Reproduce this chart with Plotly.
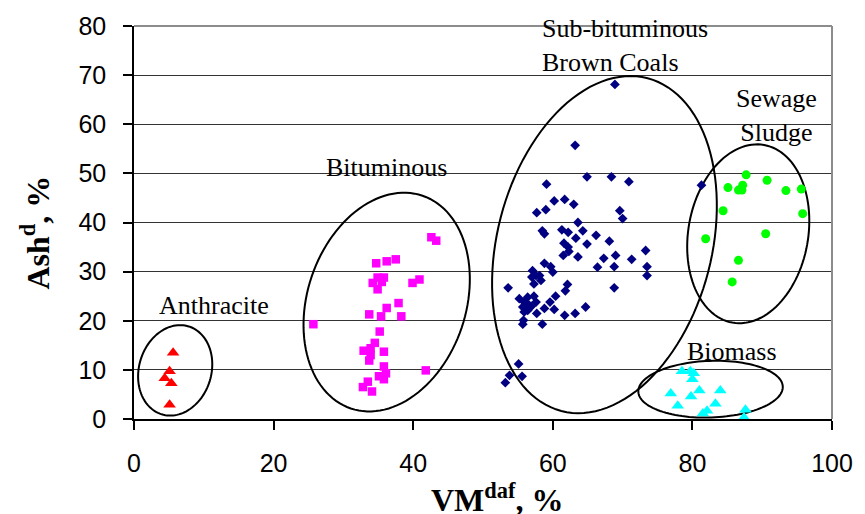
import numpy as np
import plotly.graph_objects as go

# ---- data: volatile matter (daf, %) vs ash (dry, %) by fuel type ----
anthracite_vm = [5.6, 5.1, 4.4, 5.35, 5.1]
anthracite_ash = [13.5, 9.7, 8.3, 7.3, 2.9]

bituminous_vm = [42.6, 43.3, 34.7, 36.2, 37.5, 34.9, 35.8, 34.2, 35.5, 34.9,
                 39.9, 40.9, 37.9, 36.2, 33.7, 35.4, 38.3, 25.7, 35.2, 34.5,
                 32.9, 33.9, 33.9, 35.8, 33.7, 35.8, 36.1, 35.1, 35.8, 41.8,
                 33.5, 32.8, 34.1]
bituminous_ash = [37.0, 36.3, 31.7, 32.1, 32.5, 28.8, 28.8, 27.7, 27.9, 26.4,
                  27.7, 28.4, 23.6, 22.6, 21.3, 20.9, 20.9, 19.3, 17.8, 15.5,
                  13.9, 14.4, 13.0, 13.7, 11.9, 10.7, 9.3, 8.7, 8.1, 9.9,
                  7.6, 6.5, 5.6]

subbit_vm = [68.9, 63.2, 64.9, 68.4, 70.9, 59.1, 60.2, 61.7, 63.0, 57.7,
             59.0, 69.6, 70.0, 63.6, 58.5, 58.8, 61.3, 62.2, 64.3, 66.2,
             63.3, 68.1, 61.6, 62.2, 64.9, 62.3, 61.5, 63.6, 73.3, 67.3,
             69.0, 71.3, 66.4, 68.8, 73.5, 73.5, 58.8, 59.7, 60.0, 57.1,
             57.6, 57.0, 57.3, 58.3, 53.6, 62.1, 61.8, 68.8, 55.2, 55.9,
             56.4, 57.3, 56.6, 55.7, 56.4, 60.4, 59.6, 58.8, 60.2, 57.7,
             64.7, 61.7, 63.2, 55.8, 55.7, 58.5, 55.1, 53.8, 55.6, 53.2,
             81.3, 56.9, 55.9, 57.6, 58.1]
subbit_ash = [68.1, 55.7, 49.3, 49.3, 48.3, 47.8, 44.4, 44.7, 43.7, 42.0,
              42.6, 42.4, 40.8, 40.0, 38.3, 37.7, 38.5, 38.0, 38.3, 37.4,
              36.8, 36.2, 35.8, 35.0, 35.6, 34.1, 33.3, 33.0, 34.3, 32.7,
              33.3, 32.5, 30.9, 31.0, 31.0, 29.2, 31.7, 31.0, 29.9, 30.2,
              29.2, 28.9, 27.5, 28.2, 26.7, 27.4, 26.1, 26.7, 24.5, 23.8,
              24.8, 25.0, 23.2, 22.8, 22.1, 25.0, 23.8, 22.5, 22.3, 21.5,
              22.8, 21.1, 21.5, 20.1, 19.3, 19.3, 11.2, 8.9, 8.7, 7.4,
              47.6, 22.9, 21.8, 23.8, 29.2]

sludge_vm = [87.7, 90.7, 85.1, 87.2, 86.6, 87.1, 93.4, 95.6, 84.4, 95.8,
             90.5, 81.9, 86.6, 85.7]
sludge_ash = [49.7, 48.6, 47.1, 47.6, 46.6, 46.6, 46.5, 46.8, 42.4, 41.8,
              37.7, 36.7, 32.3, 27.9]

biomass_vm = [78.5, 79.7, 80.2, 80.0, 76.9, 81.0, 79.8, 84.0, 77.9, 83.3,
              82.1, 81.5, 87.6, 87.4]
biomass_ash = [9.7, 9.7, 9.3, 8.1, 5.2, 5.8, 4.6, 5.8, 2.7, 3.1,
               1.7, 1.1, 1.9, 0.3]

x_ticks = [0, 20, 40, 60, 80, 100]
y_ticks = [0, 10, 20, 30, 40, 50, 60, 70, 80]

# ---- layout geometry ----
W, H = 865, 514
ML, MR, MT, MB = 134, 26, 24, 94.5
XR, YR = (0, 100), (0, 80)
px_x = (W - ML - MR) / (XR[1] - XR[0])   # pixels per x unit
px_y = (H - MT - MB) / (YR[1] - YR[0])   # pixels per y unit

SERIF = "Liberation Serif"
SANS = "Liberation Sans"

fig = go.Figure()


def add_series(vm, ash, symbol, color, size):
    fig.add_trace(go.Scatter(
        x=vm, y=ash, mode="markers",
        marker=dict(symbol=symbol, color=color, size=size, line=dict(width=0)),
        cliponaxis=False, showlegend=False, hoverinfo="x+y"))


add_series(anthracite_vm, anthracite_ash, "triangle-up", "#FF0000", 11)
add_series(bituminous_vm, bituminous_ash, "square", "#FF00FF", 8.5)
add_series(subbit_vm, subbit_ash, "diamond", "#000080", 7.5)
add_series(sludge_vm, sludge_ash, "circle", "#00FF00", 9)
add_series(biomass_vm, biomass_ash, "triangle-up", "#00FFFF", 11)


def ellipse_path(cx, cy, a, b, phi_deg, n=120):
    """Closed SVG path of an ellipse centred at (cx, cy) in data units,
    semi-axes a, b given in screen pixels, major axis at phi degrees."""
    phi = np.radians(phi_deg)
    t = np.linspace(0, 2 * np.pi, n, endpoint=False)
    dx = a * np.cos(t) * np.cos(phi) - b * np.sin(t) * np.sin(phi)
    dy = a * np.cos(t) * np.sin(phi) + b * np.sin(t) * np.cos(phi)
    xs = cx + dx / px_x
    ys = cy + dy / px_y
    pts = [f"{x:.4f},{y:.4f}" for x, y in zip(xs, ys)]
    return "M" + " L".join(pts) + " Z"


groups = [
    (5.9, 9.9, 46.3, 36.5, 72.8),     # anthracite
    (36.2, 23.8, 113, 80, 71.3),      # bituminous
    (67.4, 35.5, 173, 108.3, 75.4),   # sub-bituminous / brown coals
    (88.0, 37.7, 90.8, 60.5, 79.8),   # sewage sludge
    (82.6, 6.07, 73, 28.5, 2.0),      # biomass
]
for cx, cy, a, b, phi in groups:
    fig.add_shape(type="path", path=ellipse_path(cx, cy, a, b, phi),
                  xref="x", yref="y", line=dict(color="black", width=2),
                  fillcolor="rgba(0,0,0,0)", layer="between")

# grey frame on top and right of the plot area
fig.add_shape(type="line", xref="paper", yref="paper", x0=0, x1=1, y0=1, y1=1,
              line=dict(color="#8c8c8c", width=2), layer="above")
fig.add_shape(type="line", xref="paper", yref="paper", x0=1, x1=1, y0=0, y1=1,
              line=dict(color="#8c8c8c", width=2), layer="above")

label_font = dict(family=SERIF, size=26, color="black")
labels = [
    ("Anthracite", 11.5, 23.2, "center"),
    ("Bituminous", 36.2, 51.1, "center"),
    ("Sub-bituminous<br>Brown Coals", 58.1, 76.0, "left"),
    ("Sewage<br>Sludge", 92.0, 61.75, "center"),
    ("Biomass", 85.7, 13.7, "center"),
]
for text, x, y, anchor in labels:
    fig.add_annotation(text=text, x=x, y=y, xref="x", yref="y",
                       xanchor=anchor, yanchor="middle", align=anchor,
                       showarrow=False, font=label_font)

title_font = dict(family=SERIF, size=32, color="black")
fig.add_annotation(text="<b>VM<sup>daf</sup>, %</b>", xref="paper", yref="paper",
                   x=(501 - ML) / (W - ML - MR), y=-0.2,
                   xanchor="center", yanchor="middle", showarrow=False,
                   font=title_font)
fig.add_annotation(text="<b>Ash<sup>d</sup>, %</b>", xref="paper", yref="paper",
                   x=-0.142, y=0.474, textangle=-90,
                   xanchor="center", yanchor="middle", showarrow=False,
                   font=title_font)

fig.update_layout(
    width=W, height=H,
    margin=dict(l=ML, r=MR, t=MT, b=MB, pad=0),
    paper_bgcolor="white", plot_bgcolor="white",
    showlegend=False,
    xaxis=dict(range=list(XR), tickvals=x_ticks, ticktext=[str(v) for v in x_ticks],
               showgrid=False, zeroline=False,
               showline=True, linecolor="black", linewidth=1.5,
               ticks="outside", ticklen=9, tickwidth=1.5, tickcolor="black",
               ticklabelstandoff=12,
               tickfont=dict(family=SANS, size=25, color="black")),
    yaxis=dict(range=list(YR), tickvals=y_ticks, ticktext=[str(v) for v in y_ticks],
               showgrid=True, gridcolor="#333333", gridwidth=1, zeroline=False,
               showline=True, linecolor="black", linewidth=1.5,
               ticks="outside", ticklen=9, tickwidth=1.5, tickcolor="black",
               ticklabelstandoff=12,
               tickfont=dict(family=SANS, size=25, color="black")),
)

fig.write_html("out.html")
